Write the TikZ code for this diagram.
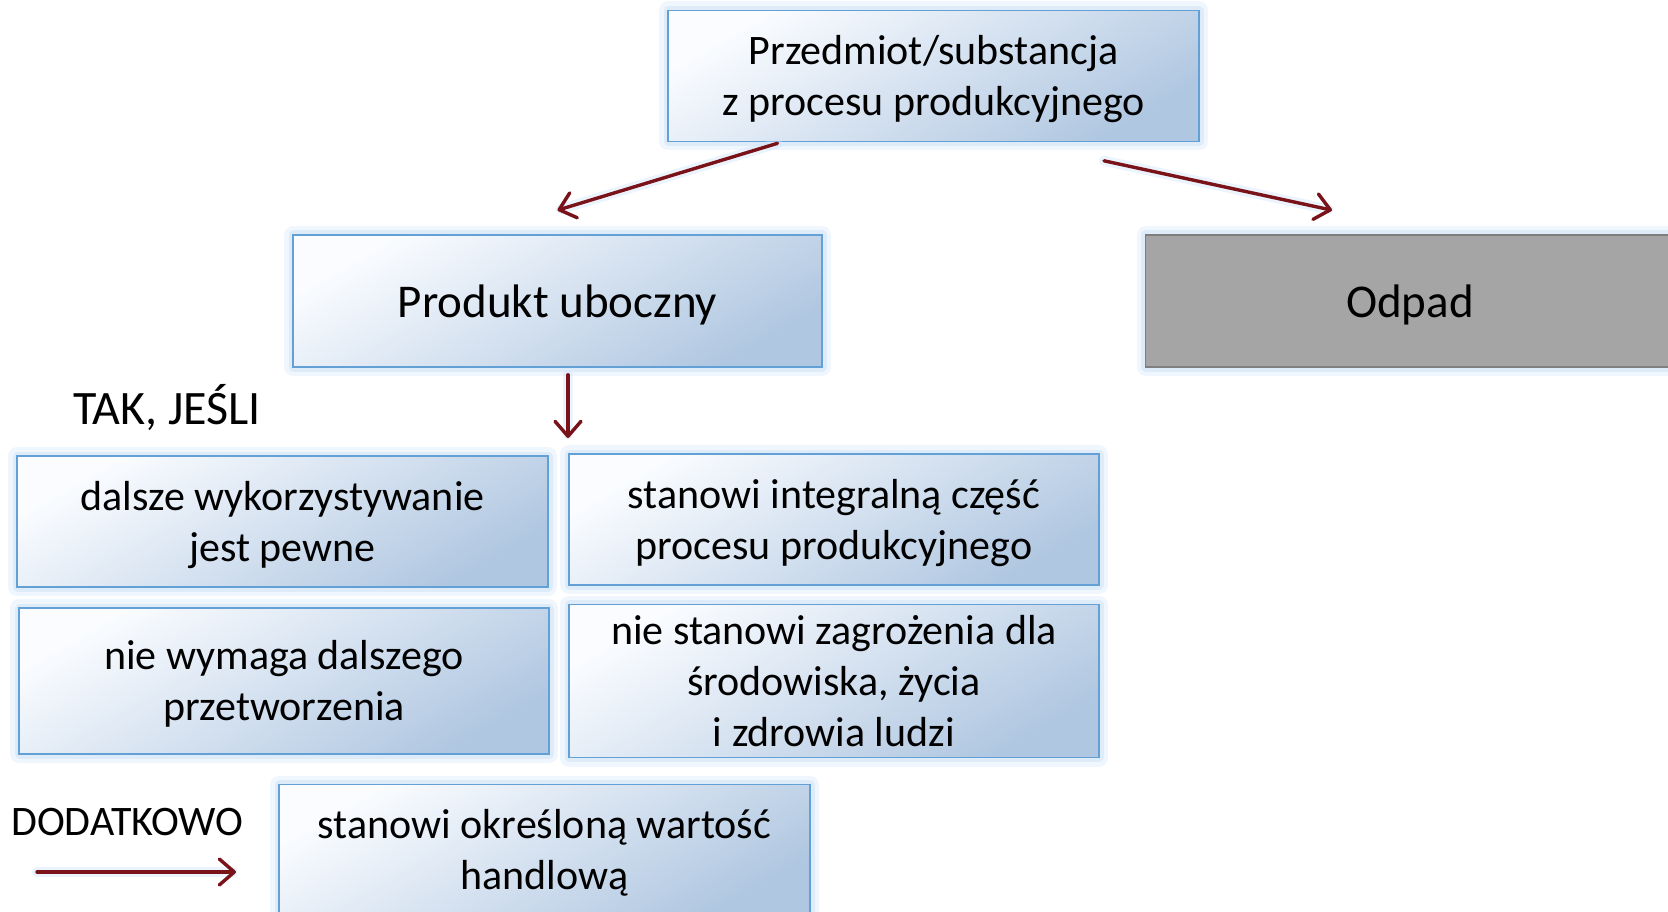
\documentclass[tikz,border=0pt]{standalone}
\usepackage{fontspec}
\setmainfont{Carlito}
\usetikzlibrary{arrows.meta}
\definecolor{bord}{RGB}{98,160,214}
\definecolor{lite}{RGB}{250,252,255}
\definecolor{deep}{RGB}{176,199,225}
\definecolor{glow}{RGB}{205,226,248}
\definecolor{arrc}{RGB}{122,18,26}
\definecolor{odfill}{RGB}{165,165,165}
\definecolor{odbord}{RGB}{127,127,127}
\newcommand{\boxtext}[2][4pt]{\raisebox{-#1}[\height][\depth]{\begin{tabular}{@{}c@{}}#2\end{tabular}}}
\begin{document}
\begin{tikzpicture}[x=1pt,y=-1pt,
  glowing/.style={preaction={draw=glow,line width=18pt,opacity=0.3,line join=round},
                  preaction={draw=glow,line width=9pt,opacity=0.5,line join=round}},
  box/.style={glowing, draw=bord, line width=1.6pt, top color=lite, bottom color=deep,
              shading angle=30, align=center, inner sep=0pt,
              font=\fontsize{42}{51}\selectfont},
  bigbox/.style={box, font=\fontsize{47}{57}\selectfont},
  grey/.style={glowing, draw=odbord, line width=1.6pt, fill=odfill, align=center,
              inner sep=0pt, font=\fontsize{47}{57}\selectfont},
  lbl/.style={inner sep=0pt, anchor=west, font=\fontsize{42}{51}\selectfont},
  arr/.style={draw=arrc, line width=3.4pt, line cap=round,
              preaction={draw=glow, line width=10pt, opacity=0.4, line cap=round},
              -{Straight Barb[length=15pt,width=26pt,line width=3.4pt,round]}}
]
\useasboundingbox (0,0) rectangle (1668,912);

\node[box, minimum width=531pt, minimum height=131pt] (top) at (933.5,76)
  {\boxtext{Przedmiot/substancja\\z procesu produkcyjnego}};
\node[bigbox, minimum width=529pt, minimum height=132pt] (prod) at (557.5,301)
  {\boxtext[5pt]{Produkt uboczny}};
\node[grey, minimum width=529pt, minimum height=132pt] (odpad) at (1410,301)
  {\boxtext[5pt]{Odpad}};

\node[lbl, font=\fontsize{48}{58}\selectfont] (tak) at (73,408) {TAK, JEŚLI};

\node[box, minimum width=531pt, minimum height=131pt] (dalsze) at (282.5,521.5)
  {\boxtext{dalsze wykorzystywanie\\jest pewne}};
\node[box, minimum width=530pt, minimum height=131pt] (integ) at (834,519.5)
  {\boxtext{stanowi integralną część\\procesu produkcyjnego}};
\node[box, minimum width=530pt, minimum height=146pt] (wymaga) at (284,681)
  {\boxtext{nie wymaga dalszego\\przetworzenia}};
\node[box, minimum width=530pt, minimum height=146pt] (zagr) at (834,681)
  {\boxtext{nie stanowi zagrożenia dla\\środowiska, życia\\i zdrowia ludzi}};

\node[lbl] (dod) at (11,822) {DODATKOWO};
\node[box, minimum width=531pt, minimum height=131pt] (handl) at (544.5,850)
  {\boxtext{stanowi określoną wartość\\handlową}};

\coordinate (downend) at (568,438);
\coordinate (dodstart) at (37,872);
\coordinate (dodend) at (236,872);

\draw[arr] ([xshift=-156pt,yshift=-1pt]top.south) -- ([yshift=24pt]prod.north);
\draw[arr] ([xshift=170.5pt,yshift=-18.5pt]top.south) -- ([xshift=-78pt,yshift=24pt]odpad.north);
\draw[arr] ([xshift=10.5pt,yshift=-7pt]prod.south) -- (downend);
\draw[arr] (dodstart) -- (dodend);
\end{tikzpicture}
\end{document}
